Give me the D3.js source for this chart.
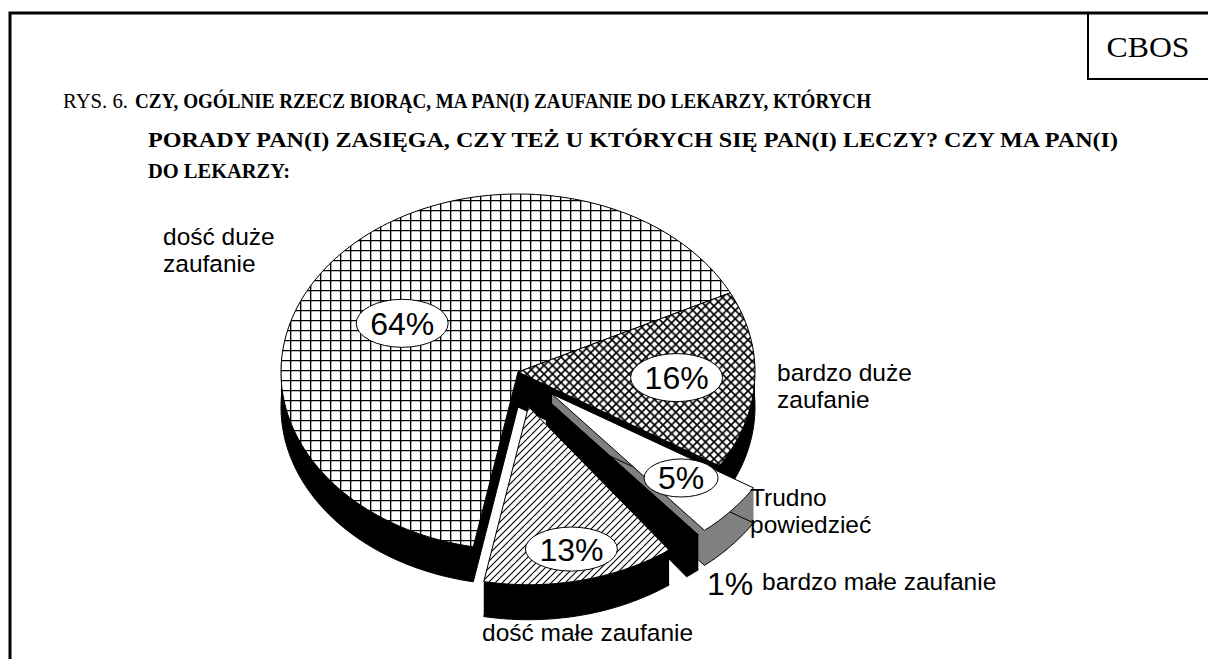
<!DOCTYPE html>
<html>
<head>
<meta charset="utf-8">
<script src="https://cdn.jsdelivr.net/npm/d3@7"></script>
<style>
  body { margin: 0; background: #fff; }
  svg { display: block; }
  .serif { font-family: "Liberation Serif", "Times New Roman", serif; }
  .sans  { font-family: "Liberation Sans", Arial, sans-serif; }
</style>
</head>
<body>
<div id="chart"></div>
<script>
// ---------- Data ----------
const categories  = ["bardzo duże zaufanie", "Trudno powiedzieć", "bardzo małe zaufanie", "dość małe zaufanie", "dość duże zaufanie"];
const labelLines  = [["bardzo duże", "zaufanie"], ["Trudno", "powiedzieć"], ["bardzo małe zaufanie"], ["dość małe zaufanie"], ["dość duże", "zaufanie"]];
const values      = [16, 5, 1, 13, 64];
const valueLabels = ["16%", "5%", "1%", "13%", "64%"];
const titlePrefix = "RYS. 6.";
const titleLines  = [
  "CZY, OGÓLNIE RZECZ BIORĄC, MA PAN(I) ZAUFANIE DO LEKARZY, KTÓRYCH",
  "PORADY PAN(I) ZASIĘGA, CZY TEŻ U KTÓRYCH SIĘ PAN(I) LECZY? CZY MA PAN(I)",
  "DO LEKARZY:"
];
const sourceLabel = "CBOS";

// ---------- Styles (per slice, same order as data) ----------
const topFill   = ["url(#pCross)", "#ffffff", "#000000", "url(#pDiag)", "url(#pGrid)"];
const sideFill  = ["#000000", "#808080", "#000000", "#000000", "#000000"];
const explode   = [0, 0.19, 0.19, 0.2, 0];
const labelR    = [0.67, 0.72, 0, 0.82, 0.56];
const labelDA   = [0, 0, 0, 0, -8];          // degrees, nudge along the arc
const ellipseRx = [46, 37, 0, 46, 46];
const ellipseRy = [24, 19, 0, 22, 24];
// outside category labels: [x, first baseline]
const catPos    = [[777, 381], [750, 506], [762, 590], [482, 641], [163, 245]];
const drawOrder = [4, 0, 1, 2, 3];
// title lines: [x, baseline, width]
const titlePos  = [[135, 108, 736], [148, 147, 970], [148, 178, 142]];

// ---------- Layout ----------
const W = 1208, H = 659;
const C = { x: 518, y: 372 }, RX = 237, RY = 178, DEPTH = 35;
const START = (90 - 26.4) * Math.PI / 180;

const svg = d3.select("#chart").append("svg").attr("width", W).attr("height", H);

// ---------- Patterns ----------
const defs = svg.append("defs");
const pGrid = defs.append("pattern").attr("id", "pGrid").attr("patternUnits", "userSpaceOnUse")
  .attr("width", 10).attr("height", 10);
pGrid.append("rect").attr("width", 10).attr("height", 10).attr("fill", "#fff");
pGrid.append("path").attr("d", "M0,0.5H10M0.5,0V10").attr("stroke", "#000").attr("stroke-width", 1.7);

const pCross = defs.append("pattern").attr("id", "pCross").attr("patternUnits", "userSpaceOnUse")
  .attr("width", 8.5).attr("height", 8.5);
pCross.append("rect").attr("width", 8.5).attr("height", 8.5).attr("fill", "#fff");
pCross.append("path").attr("d", "M-1,-1L9.5,9.5M9.5,-1L-1,9.5").attr("stroke", "#000").attr("stroke-width", 1.7);

const pDiag = defs.append("pattern").attr("id", "pDiag").attr("patternUnits", "userSpaceOnUse")
  .attr("width", 7).attr("height", 7);
pDiag.append("rect").attr("width", 7).attr("height", 7).attr("fill", "#fff");
pDiag.append("path").attr("d", "M-1,8L8,-1M-2,2L2,-2M5,9L9,5").attr("stroke", "#000").attr("stroke-width", 1.1);

// ---------- Frame ----------
svg.append("path").attr("d", `M10,${H} V13 H${W}`).attr("fill", "none")
  .attr("stroke", "#000").attr("stroke-width", 3);
svg.append("rect").attr("x", 1088).attr("y", 13).attr("width", 130).attr("height", 66)
  .attr("fill", "none").attr("stroke", "#000").attr("stroke-width", 2);
svg.append("text").attr("class", "serif").attr("x", 1148).attr("y", 57)
  .attr("text-anchor", "middle").attr("font-size", 30).attr("textLength", 83)
  .attr("lengthAdjust", "spacingAndGlyphs").text(sourceLabel);

// ---------- Title ----------
const title = svg.append("g").attr("class", "serif").attr("font-size", 21);
title.append("text").attr("x", 63).attr("y", titlePos[0][1])
  .attr("textLength", 65).attr("lengthAdjust", "spacingAndGlyphs").text(titlePrefix);
title.selectAll("text.tl").data(titleLines).join("text").attr("class", "tl")
  .attr("x", (d, i) => titlePos[i][0]).attr("y", (d, i) => titlePos[i][1])
  .attr("textLength", (d, i) => titlePos[i][2]).attr("lengthAdjust", "spacingAndGlyphs")
  .attr("font-weight", "bold").text(d => d);

// ---------- Pie geometry ----------
const xs = d3.scaleLinear().domain([-1, 1]).range([C.x - RX, C.x + RX]);
const ys = d3.scaleLinear().domain([-1, 1]).range([C.y - RY, C.y + RY]);
const arcs = d3.pie().sort(null).value(d => d).startAngle(START).endAngle(START + 2 * Math.PI)(values);

function offsetOf(a, i) {
  const mid = (a.startAngle + a.endAngle) / 2;
  return [xs(Math.sin(mid) * explode[i]) - C.x, ys(-Math.cos(mid) * explode[i]) - C.y];
}
function slicePoints(a, i) {
  const [ox, oy] = offsetOf(a, i);
  const pts = [[C.x + ox, C.y + oy]];
  const n = Math.max(2, Math.ceil((a.endAngle - a.startAngle) / 0.02));
  for (let k = 0; k <= n; k++) {
    const t = a.startAngle + (a.endAngle - a.startAngle) * k / n;
    pts.push([xs(Math.sin(t)) + ox, ys(-Math.cos(t)) + oy]);
  }
  return pts;
}
function orient(p) {
  let s = 0;
  for (let i = 0; i < p.length; i++) {
    const q = p[(i + 1) % p.length];
    s += p[i][0] * q[1] - q[0] * p[i][1];
  }
  return s < 0 ? p.slice().reverse() : p;
}
const poly = p => "M" + p.map(q => q[0].toFixed(2) + "," + q[1].toFixed(2)).join("L") + "Z";

// side = union of the top face swept down by DEPTH
function sweepPath(pts) {
  let d = poly(orient(pts.map(p => [p[0], p[1] + DEPTH])));
  for (let i = 0; i < pts.length; i++) {
    const p = pts[i], q = pts[(i + 1) % pts.length];
    if (Math.abs(q[0] - p[0]) < 0.01) continue;
    d += poly(orient([p, q, [q[0], q[1] + DEPTH], [p[0], p[1] + DEPTH]]));
  }
  return d;
}

const pieG = svg.append("g");
drawOrder.forEach(i => {
  const a = arcs[i];
  const pts = slicePoints(a, i);
  const g = pieG.append("g").attr("class", "slice");
  g.append("path").attr("d", sweepPath(pts)).attr("fill", sideFill[i]);
  g.append("path").attr("d", poly(pts.map(p => [p[0], p[1] + DEPTH])))
    .attr("fill", "none").attr("stroke", "#000").attr("stroke-width", 1);
  g.append("path").attr("d", poly(pts)).attr("fill", topFill[i])
    .attr("stroke", "#000").attr("stroke-width", 1).attr("stroke-linejoin", "round");
});

// ---------- Value labels in ellipses ----------
arcs.forEach((a, i) => {
  if (!ellipseRx[i]) return;
  const [ox, oy] = offsetOf(a, i);
  const mid = (a.startAngle + a.endAngle) / 2 + labelDA[i] * Math.PI / 180;
  const cx = xs(Math.sin(mid) * labelR[i]) + ox, cy = ys(-Math.cos(mid) * labelR[i]) + oy;
  svg.append("ellipse").attr("cx", cx).attr("cy", cy).attr("rx", ellipseRx[i]).attr("ry", ellipseRy[i])
    .attr("fill", "#fff").attr("stroke", "#000").attr("stroke-width", 1);
  svg.append("text").attr("class", "sans").attr("x", cx).attr("y", cy + 11.5)
    .attr("text-anchor", "middle").attr("font-size", 32).text(valueLabels[i]);
});

// ---------- Category labels ----------
labelLines.forEach((lines, i) => {
  const [x, y] = catPos[i];
  const t = svg.append("text").attr("class", "sans").attr("font-size", 24.5).attr("fill", "#000");
  if (!ellipseRx[i]) {
    // small slice: value printed in front of the name
    svg.append("text").attr("class", "sans").attr("x", x - 55).attr("y", y + 5)
      .attr("font-size", 32).text(valueLabels[i]);
  }
  lines.forEach((s, k) => t.append("tspan").attr("x", x).attr("y", y + k * 27).text(s));
});
</script>
</body>
</html>
